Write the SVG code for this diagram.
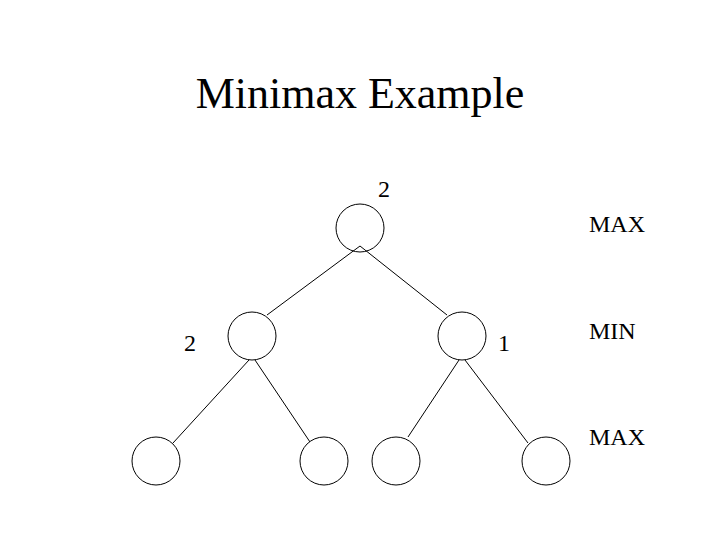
<svg xmlns="http://www.w3.org/2000/svg" width="720" height="540" viewBox="0 0 720 540">
<style>
text { font-family: "Liberation Serif", "Times New Roman", serif; fill: #000; }
.title { font-size: 44px; }
.lbl { font-size: 24px; }
.node { fill: #fff; stroke: #000; stroke-width: 1; }
.edge { stroke: #000; stroke-width: 1; fill: none; }
</style>
<rect width="720" height="540" fill="#fff"/>
<text class="title" x="360" y="108" text-anchor="middle">Minimax Example</text>
<g id="root"><circle class="node" cx="360" cy="228" r="24"/></g>
<g id="min-left"><circle class="node" cx="252" cy="336" r="24"/></g>
<g id="min-right"><circle class="node" cx="462" cy="336" r="24"/></g>
<g id="leaf1"><circle class="node" cx="156" cy="461" r="24"/></g>
<g id="leaf2"><circle class="node" cx="324" cy="461" r="24"/></g>
<g id="leaf3"><circle class="node" cx="396" cy="461" r="24"/></g>
<g id="leaf4"><circle class="node" cx="546" cy="461" r="24"/></g>
<g id="connectors">
<line class="edge" x1="360" y1="246" x2="267" y2="315"/>
<line class="edge" x1="360" y1="246" x2="447" y2="315"/>
<line class="edge" x1="249" y1="360" x2="173" y2="443"/>
<line class="edge" x1="255" y1="360" x2="310" y2="442"/>
<line class="edge" x1="459" y1="360" x2="408" y2="437"/>
<line class="edge" x1="465" y1="360" x2="528" y2="443"/>
</g>
<text class="lbl" x="378" y="197">2</text>
<text class="lbl" x="184" y="351">2</text>
<text class="lbl" x="498" y="351">1</text>
<text class="lbl" x="589" y="232">MAX</text>
<text class="lbl" x="589" y="339">MIN</text>
<text class="lbl" x="589" y="445">MAX</text>
</svg>
